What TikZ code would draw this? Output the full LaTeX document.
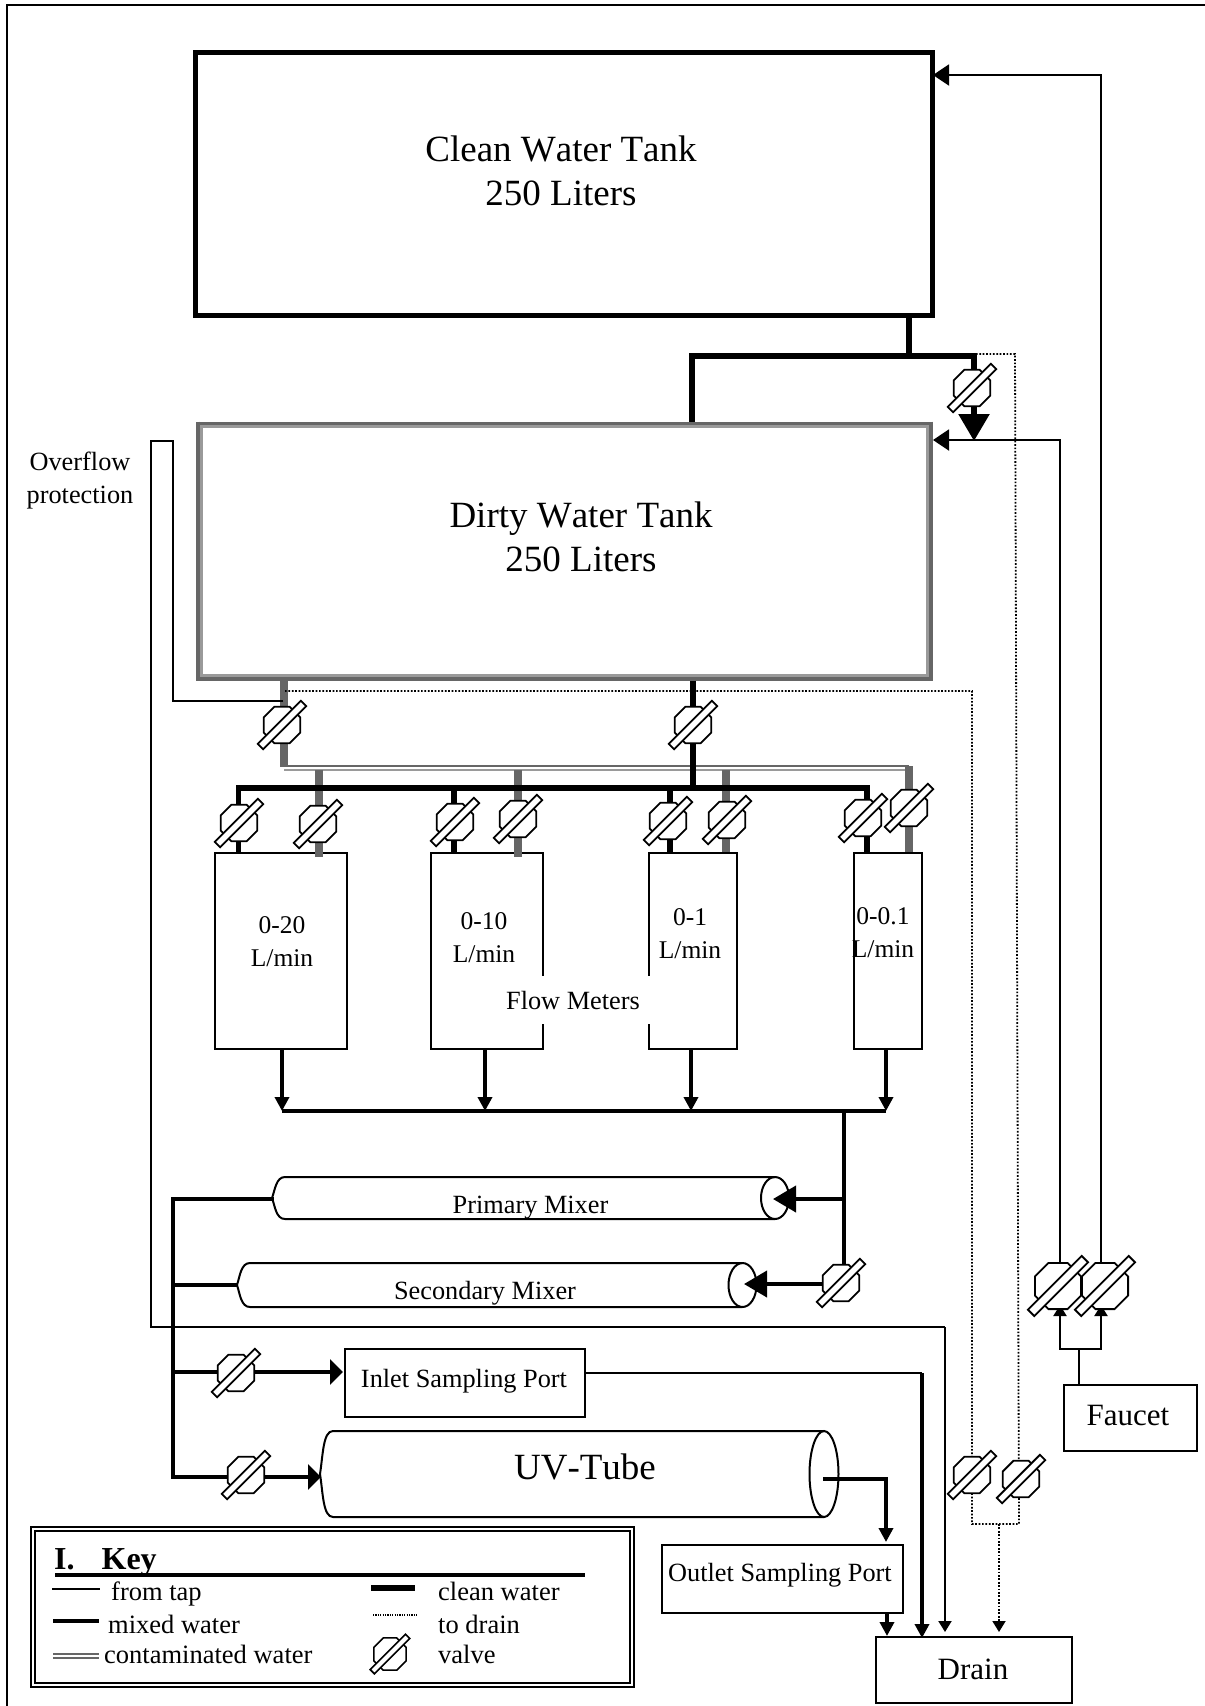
\documentclass[tikz,border=0pt]{standalone}
\usepackage{fontspec}
\setmainfont[Kerning=Off]{Liberation Serif}
\usetikzlibrary{arrows.meta,shapes.geometric}
\pgfdeclarelayer{boxlayer}
\pgfdeclarelayer{pipelayer}
\pgfsetlayers{boxlayer,pipelayer,main}
\definecolor{pipegray}{HTML}{666666}
\definecolor{rimgray}{HTML}{9A9A9A}
\tikzset{
  bigtext/.style={font=\fontsize{37}{44}\selectfont,align=center,inner sep=0pt},
  midtext/.style={font=\fontsize{26.3}{33}\selectfont,align=center,inner sep=0pt},
  metertext/.style={font=\fontsize{25.5}{33}\selectfont,align=center,inner sep=0pt},
  boxtext/.style={font=\fontsize{31}{36}\selectfont,inner sep=0pt},
  keytext/.style={font=\fontsize{26.5}{30}\selectfont,inner sep=0pt,anchor=base west},
  plainbox/.style={draw,line width=2pt,inner sep=0pt,minimum width=#1},
  tap/.style={draw,line width=2pt},
  mixedpipe/.style={draw,line width=4pt},
  cleanpipe/.style={draw,line width=5.5pt},
  graypipe/.style={draw=pipegray,line width=8pt},
  drainpipe/.style={draw,line width=1.8pt,dash pattern=on 1.7pt off 1.7pt},
  tiny tip/.style={-{Triangle[length=11pt,width=13pt]}},
  small tip/.style={-{Triangle[length=14pt,width=14pt]}},
  flat tip/.style={-{Triangle[length=13pt,width=25pt]}},
  mid tip/.style={-{Triangle[length=16pt,width=21pt]}},
  large tip/.style={-{Triangle[length=23pt,width=26pt]}},
  huge tip/.style={-{Triangle[length=27pt,width=30pt]}},
  valvebody/.style={regular polygon,regular polygon sides=8,draw,fill=white,line width=1.8pt,minimum size=39.5pt,inner sep=0pt},
  valvebar/.style={rectangle,draw,fill=white,line width=1.8pt,rotate=45,minimum width=61pt,minimum height=7.5pt,inner sep=0pt},
  bigvalvebody/.style={valvebody,minimum size=50pt},
  bigvalvebar/.style={valvebar,minimum width=76pt,minimum height=9pt}
}
\newcommand{\myvalve}[3]{\node[valvebody] (#1) at (#2,#3) {};\node[valvebar] (#1bar) at (#2,#3) {};}
\newcommand{\mybigvalve}[3]{\node[bigvalvebody] (#1) at (#2,#3) {};\node[bigvalvebar] (#1bar) at (#2,#3) {};}
\begin{document}
\begin{tikzpicture}[x=1pt,y=-1pt]
\useasboundingbox (0,0) rectangle (1205,1706);
\begin{pgfonlayer}{boxlayer}
\fill[white] (0,0) rectangle (1205,1706);
\draw[line width=2pt] (1205,5) -- (7,5) -- (7,1706);
% tanks
\node[draw,line width=5pt,minimum width=737pt,minimum height=263pt,inner sep=0pt] (clean) at (563.5,183.5) {};
\node[draw=pipegray,line width=3.5pt,minimum width=734pt,minimum height=255.5pt,inner sep=0pt] (dirty) at (564.5,551.2) {};
\node[draw=rimgray,line width=3pt,minimum width=726pt,minimum height=249pt,inner sep=0pt] (dirtyrim) at (564.5,551.2) {};
\draw[draw=pipegray,line width=4pt] ([xshift=2pt]dirty.north west) -- ([xshift=2pt]dirty.south west);
\draw[draw=pipegray,line width=4pt] ([xshift=-2pt]dirty.north east) -- ([xshift=-2pt]dirty.south east);
% flow meters
\node[plainbox=132pt,minimum height=196pt] (meterA) at (281,951) {};
\node[plainbox=112pt,minimum height=196pt] (meterB) at (487,951) {};
\node[plainbox=88pt,minimum height=196pt] (meterC) at (693,951) {};
\node[plainbox=68pt,minimum height=196pt] (meterD) at (888,951) {};
\node[midtext,fill=white,minimum height=48pt,minimum width=157pt] (flowmeters) at (573,1000) {Flow Meters};
% mixers and UV tube
\draw[line width=2pt] (775,1177) -- (285,1177) .. controls (276,1177) and (275,1190) .. (272,1198) .. controls (275,1206) and (276,1219) .. (285,1219) -- (775,1219);
\node[draw,ellipse,line width=2pt,minimum width=28pt,minimum height=42pt,inner sep=0pt] (primarycap) at (775,1198) {};
\draw[line width=2pt] (742,1263) -- (250,1263) .. controls (241,1263) and (240,1276) .. (237,1285) .. controls (240,1294) and (241,1307) .. (250,1307) -- (742,1307);
\node[draw,ellipse,line width=2pt,minimum width=28pt,minimum height=44pt,inner sep=0pt] (secondarycap) at (742.5,1285) {};
\draw[line width=2pt] (824,1431) -- (333,1431) .. controls (323,1431) and (323,1455) .. (320,1474) .. controls (323,1493) and (323,1517) .. (333,1517) -- (824,1517);
\node[draw,ellipse,line width=2pt,minimum width=29pt,minimum height=86pt,inner sep=0pt] (uvcap) at (824,1474) {};
% boxes
\node[plainbox=240pt,minimum height=68pt] (inlet) at (465,1383) {};
\node[plainbox=241pt,minimum height=68pt] (outlet) at (782,1579) {};
\node[plainbox=196pt,minimum height=66pt] (drain) at (974,1670) {};
\node[plainbox=133pt,minimum height=66pt] (faucet) at (1130,1418) {};
% key frame
\node[draw,line width=2pt,minimum width=603pt,minimum height=160pt,inner sep=0pt] (keyouter) at (332.5,1607) {};
\node[draw,line width=2pt,minimum width=595pt,minimum height=152pt,inner sep=0pt] (keyinner) at (332.5,1607) {};
\end{pgfonlayer}

% labels
\node[bigtext] (cleanlabel) at (561,171) {Clean Water Tank\\250 Liters};
\node[bigtext] (dirtylabel) at (581,537) {Dirty Water Tank\\250 Liters};
\node[midtext] (overflow) at (80,481) {Overflow\\protection};
\node[metertext] (meterAt) at (282,942) {0-20\\L/min};
\node[metertext] (meterBt) at (484,938) {0-10\\L/min};
\node[metertext] (meterCt) at (690,934) {0-1\\L/min};
\node[metertext] (meterDt) at (883,933) {0-0.1\\L/min};
\node[midtext] (primarylabel) at (530.5,1208) {Primary Mixer};
\node[midtext] (secondarylabel) at (485,1293) {Secondary Mixer};
\node[midtext] (inletlabel) at (464,1381) {Inlet Sampling Port};
\node[midtext] (outletlabel) at (780,1575) {Outlet Sampling Port};
\node[bigtext] (uvlabel) at (585,1467) {UV-Tube};
\node[boxtext] (drainlabel) at (973,1669) {Drain};
\node[boxtext] (faucetlabel) at (1128,1415) {Faucet};

% valves
\myvalve{vTop}{972}{388}
\myvalve{vDirtyA}{282}{725}
\myvalve{vDirtyB}{693}{725}
\myvalve{vA1}{239}{823}
\myvalve{vA2}{318}{824}
\myvalve{vB1}{455}{822}
\myvalve{vB2}{518}{819}
\myvalve{vC1}{668}{821}
\myvalve{vC2}{727}{820}
\myvalve{vD1}{863}{818}
\myvalve{vD2}{909}{808}
\myvalve{vSec}{841}{1283}
\myvalve{vInlet}{236}{1373}
\myvalve{vUV}{246}{1475}
\myvalve{vDrainA}{972}{1475}
\myvalve{vDrainB}{1021}{1479}
\mybigvalve{vTapA}{1058}{1286}
\mybigvalve{vTapB}{1105}{1286}

% way points
\coordinate (cleanJ) at (909,356);
\coordinate (cleanL) at (692,356);
\coordinate (cleanR) at (974,356);
\coordinate (dirtyTip) at (974,441);
\coordinate (dirtyIn) at (933,440);
\coordinate (cleanIn) at (933,75);
\coordinate (tapRA) at (1060,440);
\coordinate (tapRB) at (1101,75);
\coordinate (tapVA) at (1060,1286);
\coordinate (tapVB) at (1101,1286);
\coordinate (tapTA) at (1060,1305);
\coordinate (tapTB) at (1101,1305);
\coordinate (tapJA) at (1060,1349);
\coordinate (tapJB) at (1101,1349);
\coordinate (tapJ) at (1079,1349);
\coordinate (manL) at (238.5,788);
\coordinate (manR) at (867,788);
\coordinate (manC) at (693,788);
\coordinate (manB) at (454,788);
\coordinate (manD) at (670,788);
\coordinate (grayTop) at (284,767);
\coordinate (dblL) at (281,766);
\coordinate (dblR) at (909,766);
\coordinate (dbl2L) at (284,770);
\coordinate (dbl2R) at (905,770);
\coordinate (grayA) at (319,770);
\coordinate (grayB) at (518,770);
\coordinate (grayC) at (726,770);
\coordinate (outA) at (282,1111);
\coordinate (outB) at (485,1111);
\coordinate (outC) at (691,1111);
\coordinate (outD) at (886,1111);
\coordinate (outJ) at (844,1111);
\coordinate (mixP) at (844,1199);
\coordinate (mixS) at (844,1283);
\coordinate (primaryTip) at (773,1199);
\coordinate (secondaryTip) at (744,1284);
\coordinate (feedP) at (173,1199);
\coordinate (feedS) at (173,1285);
\coordinate (feedI) at (173,1372);
\coordinate (feedU) at (173,1477);
\coordinate (primaryOut) at (272,1199);
\coordinate (secondaryOut) at (237,1285);
\coordinate (uvIn) at (321,1477);
\coordinate (inletIn) at (343,1372);
\coordinate (inletOut) at (585,1373);
\coordinate (inletDown) at (922,1373);
\coordinate (inletDrain) at (922,1638);
\coordinate (uvOut) at (823,1479);
\coordinate (uvDown) at (886,1479);
\coordinate (outletIn) at (886,1542);
\coordinate (outletDrain) at (887,1636);
\coordinate (ofA) at (283,701);
\coordinate (ofB) at (173,701);
\coordinate (ofC) at (173,441);
\coordinate (ofD) at (151,441);
\coordinate (ofE) at (151,1327);
\coordinate (ofF) at (945,1327);
\coordinate (ofDrain) at (945,1632);
\coordinate (dotStart) at (285,691);
\coordinate (dotTurn) at (972,691);
\coordinate (dotBotL) at (972,1524);
\coordinate (dotBotR) at (1019,1524);
\coordinate (dotTopR) at (1015,354);
\coordinate (dotTopL) at (974,354);
\coordinate (dotJ) at (999,1524);
\coordinate (dotDrain) at (999,1632);

\begin{pgfonlayer}{pipelayer}
% contaminated water
\draw[graypipe] (dirty.south -| grayTop) -- (grayTop);
\draw[draw=pipegray,line width=2.4pt] (dblL) -- (dblR);
\draw[draw=rimgray,line width=1.6pt] (dbl2L) -- (dbl2R);
\draw[graypipe] (grayA) -- ++(0,87);
\draw[graypipe] (grayB) -- ++(0,87);
\draw[graypipe] (grayC) -- (meterC.north -| grayC);
\draw[graypipe] (dblR) -- (meterD.north -| dblR);
% clean water
\draw[cleanpipe] (clean.south -| cleanJ) -- (cleanJ);
\draw[cleanpipe,line join=miter] (dirty.north -| cleanL) -- (cleanL) -- (cleanR) -- (vTop -| cleanR);
\draw[cleanpipe,huge tip] (vTop.south -| cleanR) -- (dirtyTip);
\draw[cleanpipe] (dirty.south -| manC) -- (manC);
\draw[cleanpipe] (meterA.north -| manL) -- (manL) -- (manR) -- (meterD.north -| manR);
\draw[cleanpipe] (manB) -- (meterB.north -| manB);
\draw[cleanpipe] (manD) -- (meterC.north -| manD);
% mixed water
\draw[mixedpipe,small tip] (meterA.south -| outA) -- (outA);
\draw[mixedpipe,small tip] (meterB.south -| outB) -- (outB);
\draw[mixedpipe,small tip] (meterC.south -| outC) -- (outC);
\draw[mixedpipe,small tip] (meterD.south -| outD) -- (outD);
\draw[mixedpipe] (outA) -- (outD);
\draw[mixedpipe] (outJ) -- (mixS);
\draw[mixedpipe,large tip] (mixP) -- (primaryTip);
\draw[mixedpipe,large tip] (vSec |- secondaryTip) -- (secondaryTip);
\draw[mixedpipe,line cap=rect] (primaryOut) -- (feedP) -- (feedU) -- (vUV |- feedU);
\draw[mixedpipe,flat tip] (vUV |- uvIn) -- (uvIn);
\draw[mixedpipe] (feedS) -- (secondaryOut);
\draw[mixedpipe,flat tip] (feedI) -- (inletIn);
\draw[tap] (inletOut) -- (inletDown);
\draw[mixedpipe,small tip] (inletDown) -- (inletDrain);
\draw[mixedpipe,small tip] (uvOut) -- (uvDown) -- (outletIn);
\draw[mixedpipe,small tip] (outlet.south -| outletDrain) -- (outletDrain);
% from tap
\draw[tap,mid tip] (tapVB) -- (tapRB) -- (cleanIn);
\draw[tap,mid tip] (tapVA) -- (tapRA) -- (dirtyIn);
\draw[tap] (faucet.north -| tapJ) -- (tapJ);
\draw[tap,tiny tip] (tapJB) -- (tapJA) -- (tapTA);
\draw[tap,tiny tip] (tapJA) -- (tapJB) -- (tapTB);
\draw[tap] (ofA) -- (ofB) -- (ofC) -- (ofD) -- (ofE) -- (ofF);
\draw[tap,tiny tip] (ofF) -- (ofDrain);
% to drain
\draw[drainpipe] (dotStart) -- (dotTurn) -- (dotBotL) -- (dotBotR) -- (dotTopR) -- (dotTopL);
\draw[drainpipe,tiny tip] (dotJ) -- (dotDrain);
% key
\node[keytext,font=\fontsize{32}{36}\selectfont\bfseries] (keytitle) at (54,1569) {I.\hspace*{27pt}Key};
\coordinate (keyRuleL) at (55,1575);
\coordinate (keyRuleR) at (585,1575);
\draw[mixedpipe] (keyRuleL) -- (keyRuleR);
\coordinate (kA1) at (52,1589);
\coordinate (kA2) at (100,1589);
\draw[tap] (kA1) -- (kA2);
\coordinate (kB1) at (53,1621);
\coordinate (kB2) at (99,1621);
\draw[mixedpipe] (kB1) -- (kB2);
\coordinate (kC1) at (53,1654);
\coordinate (kC2) at (99,1654);
\coordinate (kC3) at (53,1658);
\coordinate (kC4) at (99,1658);
\draw[draw=pipegray,line width=2pt] (kC1) -- (kC2);
\draw[draw=pipegray,line width=2pt] (kC3) -- (kC4);
\coordinate (kD1) at (371,1588);
\coordinate (kD2) at (415,1588);
\draw[cleanpipe] (kD1) -- (kD2);
\coordinate (kE1) at (373,1615);
\coordinate (kE2) at (418,1615);
\draw[drainpipe,line width=1.2pt,dash pattern=on 1.2pt off 1.2pt] (kE1) -- (kE2);
\end{pgfonlayer}

\node[keytext] (k1) at (111,1600) {from tap};
\node[keytext] (k2) at (108,1633) {mixed water};
\node[keytext] (k3) at (104,1663) {contaminated water};
\node[keytext] (k4) at (438,1600) {clean water};
\node[keytext] (k5) at (438,1633) {to drain};
\node[keytext] (k6) at (438,1663) {valve};
\node[valvebody,minimum size=35pt,line width=1.6pt] (kV) at (390,1654) {};
\node[valvebar,minimum width=50pt,minimum height=6pt,line width=1.6pt] (kVbar) at (390,1654) {};
\end{tikzpicture}
\end{document}
